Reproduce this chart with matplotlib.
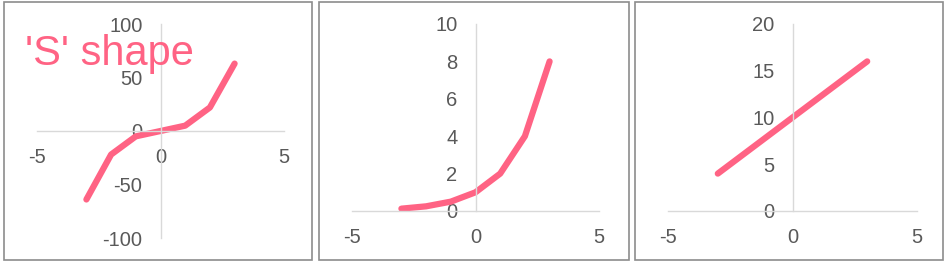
import matplotlib
matplotlib.use("Agg")
import matplotlib.pyplot as plt
from matplotlib.patches import Rectangle

plt.rcParams["font.family"] = ["Liberation Sans", "DejaVu Sans"]
plt.rcParams["axes.unicode_minus"] = False

# data
x_vals = [-3, -2, -1, 0, 1, 2, 3]
s_shape = [-64, -22, -5, 0, 5, 22, 63]
exp_vals = [0.125, 0.25, 0.5, 1, 2, 4, 8]
lin_vals = [4, 6, 8, 10, 12, 14, 16]

x_ticks = [-5, 0, 5]
y_ticks_s = [-100, -50, 0, 50, 100]
y_ticks_exp = [0, 2, 4, 6, 8, 10]
y_ticks_lin = [0, 5, 10, 15, 20]

LINE_COLOR = "#FF6384"
AXIS_COLOR = "#D9D9D9"
TEXT_COLOR = "#595959"
BORDER_COLOR = "#8C8C8C"

W, H = 946, 262


def px_axes(fig, x0, x1, y_top, y_bot):
    """Axes from pixel coords (top-left origin)."""
    return fig.add_axes([x0 / W, (H - y_bot) / H, (x1 - x0) / W, (y_bot - y_top) / H])


def style(ax, yticks, ylim):
    ax.set_xlim(-5, 5)
    ax.set_ylim(*ylim)
    ax.set_xticks(x_ticks)
    ax.set_yticks(yticks)
    for side in ("top", "right"):
        ax.spines[side].set_visible(False)
    for side in ("left", "bottom"):
        ax.spines[side].set_position(("data", 0))
        ax.spines[side].set_color(AXIS_COLOR)
        ax.spines[side].set_linewidth(1.0)
    ax.tick_params(axis="x", length=0, pad=12, labelsize=14.5, labelcolor=TEXT_COLOR)
    ax.tick_params(axis="y", length=0, pad=13, labelsize=14.5, labelcolor=TEXT_COLOR)
    ax.patch.set_alpha(0)


fig = plt.figure(figsize=(W / 100, H / 100), dpi=100)

# panel borders
for x0, x1 in [(4, 312), (319, 629), (635, 943)]:
    fig.add_artist(Rectangle((x0 / W, 2 / H), (x1 - x0) / W, (H - 4) / H,
                             transform=fig.transFigure, fill=False,
                             edgecolor=BORDER_COLOR, linewidth=1.2))

ax1 = px_axes(fig, 37, 284, 24, 238)
ax1.plot(x_vals, s_shape, color=LINE_COLOR, linewidth=4.5, solid_capstyle="round")
style(ax1, y_ticks_s, (-100, 100))
fig.text(25 / W, (H - 65) / H, "'S' shape", fontsize=30, color=LINE_COLOR,
         ha="left", va="baseline")

ax2 = px_axes(fig, 352, 599, 24, 211)
ax2.plot(x_vals, exp_vals, color=LINE_COLOR, linewidth=4.5, solid_capstyle="round")
style(ax2, y_ticks_exp, (0, 10))

ax3 = px_axes(fig, 668, 917, 24, 211)
ax3.plot(x_vals, lin_vals, color=LINE_COLOR, linewidth=4.5, solid_capstyle="round")
style(ax3, y_ticks_lin, (0, 20))

fig.savefig("out.png", dpi=100)
